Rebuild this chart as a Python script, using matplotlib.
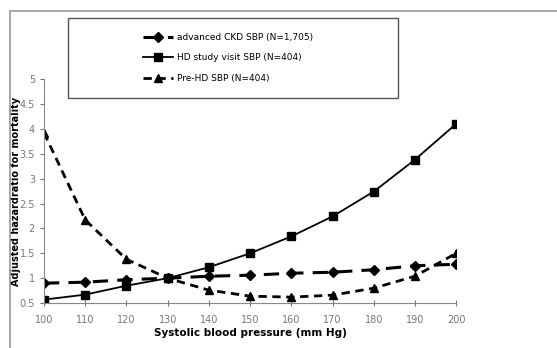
import numpy as np
import matplotlib
matplotlib.use('Agg')
import matplotlib.pyplot as plt
from matplotlib.patches import Rectangle

plt.rcParams['font.family'] = 'DejaVu Sans'

# data
sbp = [100, 110, 120, 130, 140, 150, 160, 170, 180, 190, 200]
ckd = [0.90, 0.92, 0.97, 1.00, 1.04, 1.06, 1.10, 1.12, 1.17, 1.25, 1.28]
hd_visit = [0.57, 0.67, 0.85, 1.00, 1.22, 1.50, 1.84, 2.24, 2.74, 3.38, 4.10]
pre_hd = [3.92, 2.17, 1.38, 1.00, 0.76, 0.64, 0.62, 0.66, 0.80, 1.04, 1.50]
yticks = [0.5, 1, 1.5, 2, 2.5, 3, 3.5, 4, 4.5, 5]
ytick_labels = ['0.5', '1', '1.5', '2', '2.5', '3', '3.5', '4', '4.5', '5']

fig = plt.figure(figsize=(5.57, 3.48), dpi=100)
ax = fig.add_axes([0.079, 0.129, 0.740, 0.644])

ax.plot(sbp, ckd, color='black', lw=2.2, ls=(0, (5, 3)), marker='D', ms=5,
        label='advanced CKD SBP (N=1,705)')
ax.plot(sbp, hd_visit, color='black', lw=1.3, ls='-', marker='s', ms=6,
        label='HD study visit SBP (N=404)')
ax.plot(sbp, pre_hd, color='black', lw=2.0, ls=(0, (3, 2)), marker='^', ms=6,
        label='Pre-HD SBP (N=404)')

ax.set_xlim(100, 200)
ax.set_ylim(0.5, 5)
ax.set_xticks(sbp)
ax.set_yticks(yticks)
ax.set_yticklabels(ytick_labels)
for s in ['top', 'right']:
    ax.spines[s].set_visible(False)
for s in ['left', 'bottom']:
    ax.spines[s].set_color('#888888')
ax.tick_params(axis='both', labelsize=7, colors='#777777', length=3, width=0.8)
ax.tick_params(axis='x', direction='inout', length=5, pad=6)
ax.set_xlabel('Systolic blood pressure (mm Hg)', fontsize=7.5, fontweight='bold', labelpad=2)
ax.set_ylabel('Adjusted hazardratio for mortality', fontsize=7, fontweight='bold', labelpad=-1)
ax.patch.set_visible(False)

# outer frame
fig.patches.append(Rectangle((10 / 557, -0.01), 1.0, 1 - 11 / 348 + 0.01,
                             transform=fig.transFigure, fill=False,
                             edgecolor='#999999', lw=1.2))
# legend box
fig.patches.append(Rectangle((68 / 557, 1 - 98 / 348), 330 / 557, 80 / 348,
                             transform=fig.transFigure, fill=False,
                             edgecolor='#555555', lw=1.0))
fig.legend(loc='center', bbox_to_anchor=(228 / 557, 1 - 58 / 348), frameon=False,
           fontsize=6.5, handlelength=3.4, labelspacing=1.3, handletextpad=0.4)

fig.savefig('out.png', dpi=100)
